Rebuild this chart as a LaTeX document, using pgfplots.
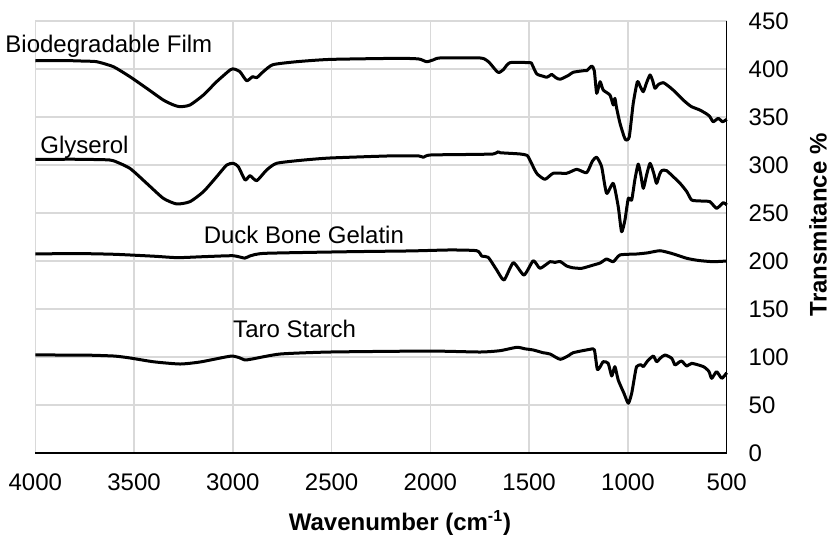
\documentclass[border=0pt]{standalone}
\usepackage{fontspec}
\setmainfont{Liberation Sans}
\usepackage{pgfplots}
\pgfplotsset{compat=1.18}

\begin{document}
\begin{tikzpicture}[font=\fontsize{12}{14}\selectfont,
  spec/.style={black, line width=1.5pt, line join=round, smooth, tension=0.35, mark=none}]
% fixed canvas around the plot box
\useasboundingbox (-17.65pt,-42.5pt) rectangle (397.85pt,226.5pt);
\begin{axis}[
  at={(0,0)}, anchor=south west,
  scale only axis, width=345.7pt, height=216pt,
  x dir=reverse,
  xmin=500, xmax=4000, ymin=0, ymax=450,
  xtick={500,1000,...,4000}, ytick={0,50,...,450},
  axis x line*=bottom, axis y line*=right,
  axis line style={-, black, line width=0.6pt},
  major tick length=0pt,
  grid=major,
  grid style={color=black!15, line width=0.75pt},
  /pgf/number format/assume math mode=true,
  /pgf/number format/1000 sep={},
  xticklabel style={anchor=north, inner sep=0pt, yshift=-10pt},
  yticklabel style={anchor=west, inner sep=0pt, xshift=10.8pt},
  tick label style={font=\fontsize{12}{14}\selectfont},
  xlabel={\bfseries Wavenumber (cm\textsuperscript{-1})},
  xlabel style={at={(rel axis cs:0.5275,-0.162)}, anchor=center, inner sep=0pt},
  ylabel={\bfseries Transmitance \%},
  ylabel style={at={(rel axis cs:1.132,0.528)}, anchor=center, rotate=0, inner sep=0pt},
  clip=false,
]
% Biodegradable Film
\addplot[spec] coordinates {
(4000,408.6)(3850,408.8)(3750,408.2)(3689,407.6)(3605,402.4)(3521,392)(3436,379.9)
(3352,367.7)(3300,362.5)(3267,360.7)(3217,362.5)(3149,372.9)(3082,386.8)(3014,399)
(2994,400)(2964,397.2)(2930,387.8)(2900,392)(2879,391)(2846,397.2)(2797,404.5)
(2677,407.6)(2508,410)(2170,411.1)(2060,410.5)(2019,407.6)(1985,409.5)(1951,411.5)
(1749,411.5)(1715,409)(1698,405.9)(1670,399)(1653,396.2)(1630,399.5)(1597,406.6)
(1496,406.6)(1487,405.5)(1462,395)(1430,392.5)(1411,391.4)(1393,393.5)(1386,394.5)
(1365,391)(1343,389.3)(1300,393.5)(1277,396.6)(1226,398.2)(1209,398.2)(1183,403.1)
(1170,398)(1158,374.7)(1141,386.8)(1125,378.1)(1091,372.9)(1074,362.5)(1066,369.5)
(1057,359.1)(1040,343.4)(1020,330)(1010,326)(993,329.5)(973,364.3)(952,386.8)
(938,382)(922,376.4)(905,386)(888,393.8)(875,388)(863,379.9)(845,384)(821,385.8)
(800,383)(771,378.1)(720,367.7)(680,361)(636,357.3)(600,353)(585,350.3)(568,345.1)
(543,348.6)(521,345.1)(500,347.6)
};
% Glyserol
\addplot[spec] coordinates {
(4000,305.9)(3800,306)(3650,305.5)(3605,304.5)(3521,296.5)(3436,280.9)(3352,265.3)
(3284,259.4)(3217,261.8)(3149,272.2)(3082,287.8)(3031,300)(2998,301.8)(2972,298.2)
(2938,284.4)(2913,288.9)(2879,283.7)(2829,294.8)(2778,301.8)(2650,305)(2508,307.3)
(2200,309.5)(2060,309.5)(2036,308)(2002,310.4)(1800,311)(1681,311.5)(1656,313.9)
(1647,312.8)(1546,311.5)(1510,310)(1496,305.2)(1462,291.4)(1420,285.1)(1378,291.4)
(1310,291.4)(1259,295.5)(1209,292)(1180,304)(1158,308)(1133,298.2)(1108,270.5)
(1074,280.9)(1049,256.6)(1032,230.5)(1015,242.7)(998,265.3)(981,263.5)(965,284.4)
(948,301)(935,290)(922,275.7)(905,290)(888,301.8)(870,292)(855,280.9)(840,290)
(829,294.1)(804,294.1)(736,280.9)(702,272.2)(677,263.5)(630,262.5)(585,261.8)
(551,254.9)(517,260.8)(500,258.3)
};
% Duck Bone Gelatin
\addplot[spec] coordinates {
(4000,207.3)(3800,207.8)(3600,207)(3400,205)(3280,203.5)(3150,204.5)(3000,205.5)
(2940,203)(2914,205.2)(2837,208)(2407,209.7)(2100,210.5)(1900,211.5)(1765,210.7)
(1740,205.2)(1707,203.8)(1664,190.6)(1627,180.2)(1580,198.2)(1526,185.4)(1479,200.3)
(1445,192.4)(1394,199.3)(1370,198.5)(1343,199.5)(1310,194.8)(1280,193)(1234,192.4)
(1175,195.8)(1140,198)(1108,202.1)(1074,199.3)(1040,206.3)(956,207.3)(900,208.5)
(838,210.7)(780,208)(702,202.8)(640,200.5)(568,199.3)(500,200)
};
% Taro Starch
\addplot[spec] coordinates {
(4000,102.1)(3750,102)(3600,101)(3521,99)(3400,95)(3267,92.7)(3166,94.8)(3050,99.5)
(3004,101)(2970,99.5)(2938,96.9)(2900,98)(2761,103.1)(2508,105.2)(2002,106.2)
(1749,105.2)(1647,106.6)(1563,110.1)(1520,108.5)(1479,107.3)(1430,104.5)(1394,103.1)
(1343,97.6)(1300,101.5)(1277,104.5)(1192,108)(1170,107.5)(1155,87.2)(1140,90)
(1125,95.1)(1100,93.5)(1082,80.2)(1066,90)(1049,76)(1020,62.2)(998,51.8)(981,62.2)
(966,80)(956,90)(935,92)(922,90)(900,96)(871,101)(855,95.1)(835,99)(812,102.1)
(778,98.6)(762,91.7)(745,94)(728,95.8)(702,90.6)(677,93.4)(618,90)(590,85)
(576,77.8)(551,84.7)(525,77.8)(500,83.6)
};
% curve names
\node[anchor=base west, inner sep=0pt] at (axis cs:4153,417) {Biodegradable Film};
\node[anchor=base west, inner sep=0pt] at (axis cs:3976,312.2) {Glyserol};
\node[anchor=base west, inner sep=0pt] at (axis cs:3149,218.4) {Duck Bone Gelatin};
\node[anchor=base west, inner sep=0pt] at (axis cs:3000,120.8) {Taro Starch};
\end{axis}
\end{tikzpicture}
\end{document}
